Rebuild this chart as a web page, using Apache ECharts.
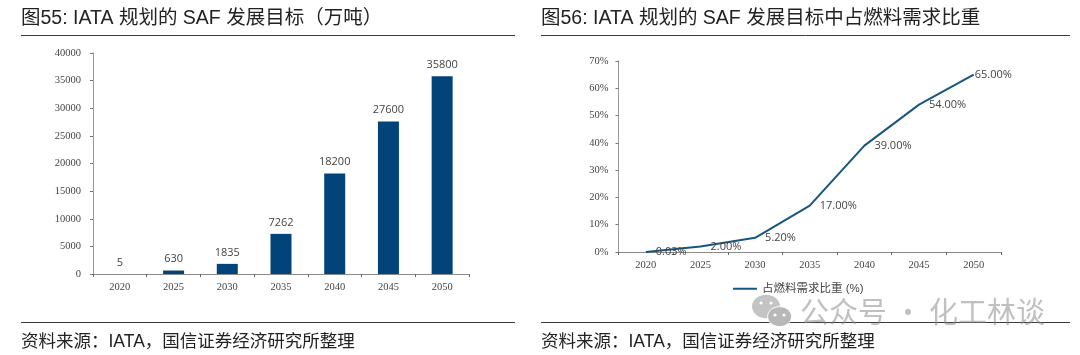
<!DOCTYPE html>
<html>
<head>
<meta charset="utf-8">
<style>
html, body { margin: 0; padding: 0; background: #fff; }
#main { width: 1080px; height: 355px; }
</style>
<script src="https://cdn.jsdelivr.net/npm/echarts@6/dist/echarts.min.js"></script>
</head>
<body>
<div id="main"></div>
<script>
const years = ['2020', '2025', '2030', '2035', '2040', '2045', '2050'];
const safTarget = [5, 630, 1835, 7262, 18200, 27600, 35800];
const fuelShare = [0.03, 2, 5.2, 17, 39, 54, 65];
const shareLabels = ['0.03%', '2.00%', '5.20%', '17.00%', '39.00%', '54.00%', '65.00%'];
const shareName = '占燃料需求比重 (%)';

const CJK = '"Liberation Sans", "Noto Sans CJK SC", sans-serif';
const SERIF = '"Liberation Serif", serif';
const LABEL = '"Open Sans", "Noto Sans", sans-serif';
const BLUE = '#02437a';
const LINE_BLUE = '#16567f';

// 折线标签离点的距离,最后一个贴着线头
const shareDistance = [10, 10, 10, 10, 10, 10, 1];

function catAxis(gridIndex) {
  return {
    type: 'category', gridIndex, data: years,
    axisLine: { lineStyle: { color: '#8a8a8a', width: 1 } },
    axisTick: { show: true, length: 3, lineStyle: { color: '#666' } },
    axisLabel: { fontFamily: SERIF, fontSize: 10.5, color: '#444', margin: 8, interval: 0 }
  };
}

function valAxis(gridIndex, max, interval, margin, formatter) {
  return {
    type: 'value', gridIndex, min: 0, max, interval,
    splitLine: { show: false },
    axisLine: { show: true, lineStyle: { color: '#9a9a9a', width: 1 } },
    axisTick: { show: true, length: 3, lineStyle: { color: '#777' } },
    axisLabel: { fontFamily: SERIF, fontSize: 10.5, color: '#444', margin, formatter }
  };
}

function headText(x, y, text, size) {
  return { type: 'text', x, y, style: { text, fontFamily: CJK, fontSize: size, fill: '#222' } };
}

function rule(x1, x2, y) {
  return { type: 'line', shape: { x1, y1: y, x2, y2: y }, style: { stroke: '#3c3c3c', lineWidth: 1 } };
}

function dot(cx, cy) {
  return { type: 'circle', z: 9, shape: { cx, cy, r: 1.6 }, style: { fill: '#fff' } };
}

const chart = echarts.init(document.getElementById('main'));
chart.setOption({
  animation: false,
  backgroundColor: '#fff',
  grid: [
    { left: 93, right: 611, top: 53, bottom: 81 },
    { left: 618.5, right: 79, top: 61, bottom: 103 }
  ],
  xAxis: [catAxis(0), catAxis(1)],
  yAxis: [
    valAxis(0, 40000, 5000, 12, v => String(v)),
    valAxis(1, 70, 10, 10, v => v + '%')
  ],
  legend: {
    data: [shareName], left: 733, top: 283, padding: 0, itemWidth: 24, itemHeight: 2,
    icon: 'rect',
    textStyle: { fontFamily: CJK, fontSize: 11.5, color: '#444' }
  },
  series: [
    {
      type: 'bar', xAxisIndex: 0, yAxisIndex: 0, data: safTarget, barWidth: 21,
      itemStyle: { color: BLUE },
      label: { show: true, position: 'top', distance: 6, fontFamily: LABEL, fontSize: 11, color: '#444' }
    },
    {
      type: 'line', name: shareName, xAxisIndex: 1, yAxisIndex: 1, showSymbol: true,
      symbol: 'circle', symbolSize: 0, z: 3,
      data: fuelShare.map((value, i) => ({
        value,
        label: {
          show: true, position: 'right', distance: shareDistance[i],
          formatter: shareLabels[i], fontFamily: LABEL, fontSize: 11, color: '#444'
        }
      })),
      itemStyle: { color: LINE_BLUE },
      lineStyle: { color: LINE_BLUE, width: 2 }
    }
  ],
  graphic: [
    headText(21, 9, '图55: IATA 规划的 SAF 发展目标（万吨）', 19.5),
    headText(541, 9, '图56: IATA 规划的 SAF 发展目标中占燃料需求比重', 19.5),
    headText(21, 333, '资料来源：IATA，国信证券经济研究所整理', 17.5),
    headText(541, 333, '资料来源：IATA，国信证券经济研究所整理', 17.5),
    rule(21, 515, 35.5),
    rule(21, 515, 322.5),
    rule(541, 1070, 35.5),
    rule(541, 1070, 322.5),
    // 水印
    { type: 'ellipse', z: 8, shape: { cx: 766, cy: 306.5, rx: 14, ry: 11.7 }, style: { fill: '#c4c4c4' } },
    { type: 'ellipse', z: 8, shape: { cx: 779.6, cy: 316.6, rx: 12, ry: 10 }, style: { fill: '#b8b8b8', stroke: '#fff', lineWidth: 1 } },
    dot(761, 303),
    dot(771, 303),
    dot(775, 315),
    dot(784, 315),
    { type: 'text', x: 800, y: 297, z: 10, style: { text: '公众号 · 化工林谈', fontFamily: '"Noto Sans CJK SC"', fontSize: 29, fill: 'rgba(130,130,130,0.5)' } }
  ]
});
</script>
</body>
</html>
